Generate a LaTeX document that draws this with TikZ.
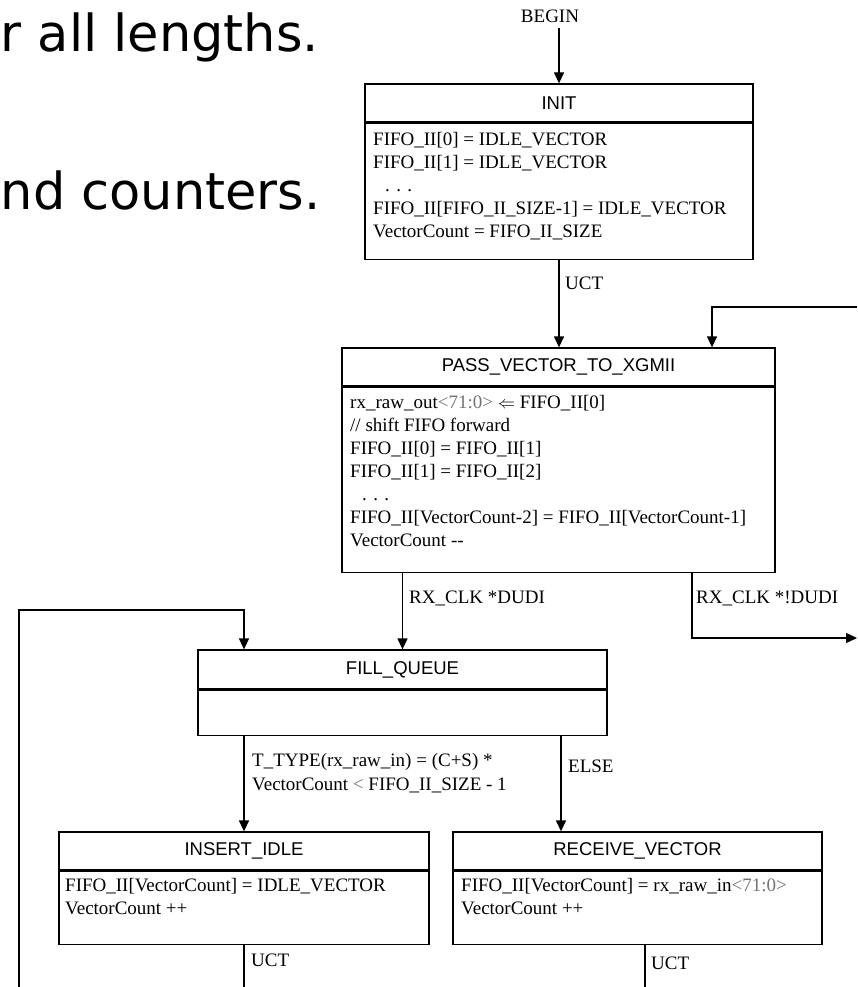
\documentclass[tikz,border=0pt]{standalone}
\usepackage{fontspec}
\setmainfont{Liberation Serif}
\newfontfamily\sansfam{Liberation Sans}
\newfontfamily\slidefam{DejaVu Sans}
\usetikzlibrary{arrows.meta}

\newcommand{\gr}[1]{\textcolor{black!55}{#1}}

\begin{document}
\begin{tikzpicture}
[x=1pt,y=-1pt]
\tikzset{stname/.style={draw,line width=1.3pt,inner sep=0pt,minimum height=38pt,font=\sansfam\fontsize{18.5}{20}\selectfont},
stbody/.style={draw,line width=1.3pt,inner sep=0pt,anchor=north},
txt/.style={anchor=north west,inner sep=0pt,align=left,font=\fontsize{19}{23}\selectfont},
lbl/.style={anchor=base west,inner sep=0pt,font=\fontsize{19}{23}\selectfont},
slide/.style={anchor=base west,inner sep=0pt,font=\slidefam\fontsize{51}{60}\selectfont},
arr/.style={line width=1.3pt,-{Triangle[length=11pt,width=10pt]}}}
\useasboundingbox (0,0) rectangle (857,987);

\node [slide] (l1) at (0.5,52) {r all lengths.};
\node [slide] (l2) at (0.5,209) {nd counters.};

\node [lbl,anchor=base] (begin) at (550,23) {BEGIN};

\node [stname,minimum width=388pt] (init) at (559,103) {INIT};
\node [stbody,minimum width=388pt,minimum height=136pt] (initb) at (init.south) {};
\node [txt] (initt) at (373,132) {FIFO\_II[0] = IDLE\_VECTOR\\FIFO\_II[1] = IDLE\_VECTOR\\\hspace*{12pt}. . .\\FIFO\_II[FIFO\_II\_SIZE-1] = IDLE\_VECTOR\\VectorCount = FIFO\_II\_SIZE};

\node [stname,minimum width=433pt] (pass) at (558.5,367) {PASS\_VECTOR\_TO\_XGMII};
\node [stbody,minimum width=433pt,minimum height=185pt] (passb) at (pass.south) {};
\node [txt] (passt) at (350,395) {rx\_raw\_out\gr{<71:0>} $\Leftarrow$ FIFO\_II[0]\\// shift FIFO forward\\FIFO\_II[0] = FIFO\_II[1]\\FIFO\_II[1] = FIFO\_II[2]\\\hspace*{12pt}. . .\\FIFO\_II[VectorCount-2] = FIFO\_II[VectorCount-1]\\VectorCount -{}-};

\node [stname,minimum width=409pt,minimum height=39pt] (fill) at (402.5,669.5) {FILL\_QUEUE};
\node [stbody,minimum width=409pt,minimum height=45pt] (fillb) at (fill.south) {};

\node [stname,minimum width=370pt] (ins) at (244,851) {INSERT\_IDLE};
\node [stbody,minimum width=370pt,minimum height=73pt] (insb) at (ins.south) {};
\node [txt] (inst) at (65,878) {FIFO\_II[VectorCount] = IDLE\_VECTOR\\VectorCount ++};

\node [stname,minimum width=369pt] (rcv) at (637.5,851) {RECEIVE\_VECTOR};
\node [stbody,minimum width=369pt,minimum height=73pt] (rcvb) at (rcv.south) {};
\node [txt] (rcvt) at (461,878) {FIFO\_II[VectorCount] = rx\_raw\_in\gr{<71:0>}\\VectorCount ++};

% transition labels
\node [lbl] (c1) at (565,289) {UCT};
\node [lbl] (c2) at (409,603) {RX\_CLK *DUDI};
\node [lbl] (c3) at (696,603) {RX\_CLK *!DUDI};
\node [txt,font=\fontsize{19}{24}\selectfont] (c4) at (252,753) {T\_TYPE(rx\_raw\_in) = (C+S) *\\VectorCount \gr{<} FIFO\_II\_SIZE - 1};
\node [lbl] (c5) at (568,772) {ELSE};
\node [lbl] (c6) at (251,966) {UCT};
\node [lbl] (c7) at (651,969) {UCT};

\coordinate (loopin) at (857,307);
\coordinate (passin) at (712,307);
\coordinate (loopout) at (857,638);
\coordinate (loopback) at (19,990);
\coordinate (loopcorner) at (244,610);
\coordinate (insout) at (244,990);
\coordinate (rcvout) at (645,990);

\draw [arr] ([yshift=-5pt]begin.south -| init.north) -- (init.north);
\draw [arr] (initb.south) -- (initb.south |- pass.north);
\draw [arr] (loopin) -- (passin) -- (passin |- pass.north);
\draw [arr] (passb.south -| fill.north) -- (fill.north);
\draw [arr] ([xshift=133.5pt]passb.south) |- (loopout);
\draw [arr] (loopback) |- (loopcorner) -- (loopcorner |- fill.north);
\draw [arr] (fillb.south -| ins.north) -- (ins.north);
\draw [arr] ([xshift=158.5pt]fillb.south) -- ([xshift=158.5pt]fillb.south |- rcv.north);
\draw [line width=1.3pt] (insb.south) -- (insout);
\draw [line width=1.3pt] (rcvout |- rcvb.south) -- (rcvout);

\end{tikzpicture}
\end{document}
